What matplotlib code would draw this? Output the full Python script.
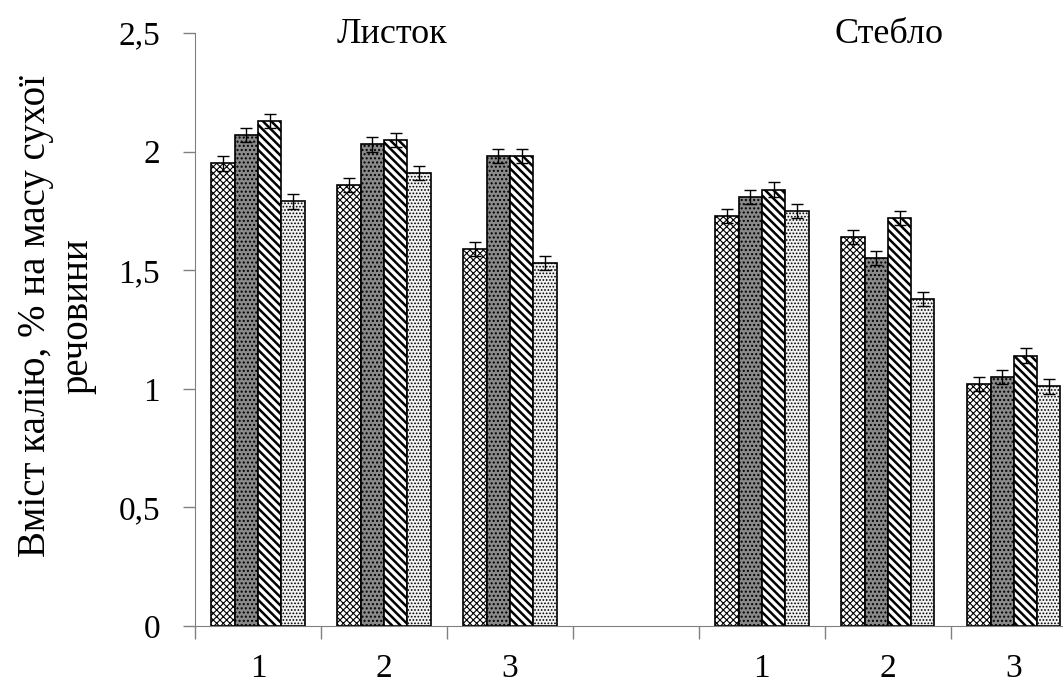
import matplotlib as mpl
import matplotlib.pyplot as plt
import numpy as np

plt.rcParams["font.family"] = ["Liberation Serif", "DejaVu Serif"]

SLOT_LABELS = ["1", "2", "3", "", "1", "2", "3"]
PART_LABELS = ["Листок", "Стебло"]
Y_LABEL = "Вміст калію, % на масу сухої\nречовини"

# values per series (4 variants), per slot (slot 3 is an empty gap)
SERIES_1 = [1.95, 1.86, 1.59, np.nan, 1.73, 1.64, 1.02]
SERIES_2 = [2.07, 2.03, 1.98, np.nan, 1.81, 1.55, 1.05]
SERIES_3 = [2.13, 2.05, 1.98, np.nan, 1.84, 1.72, 1.14]
SERIES_4 = [1.79, 1.91, 1.53, np.nan, 1.75, 1.38, 1.01]
ERR = 0.03

SERIES = [SERIES_1, SERIES_2, SERIES_3, SERIES_4]
FACES = ["white", "#8a8a8a", "white", "#f2f2f2"]
HATCHES = ["xxxxx", "....", "\\\\\\\\", "....."]
HATCH_LW = [0.8, 1.0, 1.8, 0.8]


def main() -> None:
    fig = plt.figure(figsize=(10.63, 6.87), dpi=100)
    ax = fig.add_axes([0.1834, 0.0888, 0.8166, 0.8632])

    x = np.arange(len(SLOT_LABELS))
    width = 0.185
    offsets = (np.arange(4) - 1.5) * width

    for vals, face, hatch, hlw, off in zip(SERIES, FACES, HATCHES, HATCH_LW, offsets):
        v = np.array(vals, dtype=float)
        ok = ~np.isnan(v)
        with mpl.rc_context({"hatch.linewidth": hlw}):
            ax.bar(x[ok] + off, v[ok], width, color=face, hatch=hatch,
                   edgecolor="black", linewidth=1.2)
        ax.errorbar(x[ok] + off, v[ok], yerr=ERR, fmt="none", ecolor="black",
                    elinewidth=1.0, capsize=4.5, capthick=1.0)

    ax.set_ylim(0, 2.5)
    ax.set_xlim(-0.5, 6.39)
    ax.set_yticks([0, 0.5, 1, 1.5, 2, 2.5])
    ax.set_yticklabels(["0", "0,5", "1", "1,5", "2", "2,5"], fontsize=24)
    ax.set_xticks(x)
    ax.set_xticklabels(SLOT_LABELS, fontsize=24)
    ax.tick_params(axis="x", length=0, pad=20)
    ax.set_xticks(np.arange(len(SLOT_LABELS)) - 0.5, minor=True)
    ax.tick_params(axis="x", which="minor", length=9, color="#808080", width=1)
    ax.tick_params(axis="y", length=9, color="#808080", width=1, pad=16)

    for side in ("top", "right"):
        ax.spines[side].set_visible(False)
    for side in ("left", "bottom"):
        ax.spines[side].set_color("#808080")

    ax.text(1.06, 2.458, PART_LABELS[0], fontsize=26, ha="center", va="baseline")
    ax.text(5.01, 2.458, PART_LABELS[1], fontsize=26, ha="center", va="baseline")

    fig.text(0.053, 0.54, Y_LABEL, fontsize=28, rotation=90,
             ha="center", va="center", multialignment="center", linespacing=1.2)

    fig.savefig("out.png", dpi=100)
    plt.close(fig)


if __name__ == "__main__":
    main()
